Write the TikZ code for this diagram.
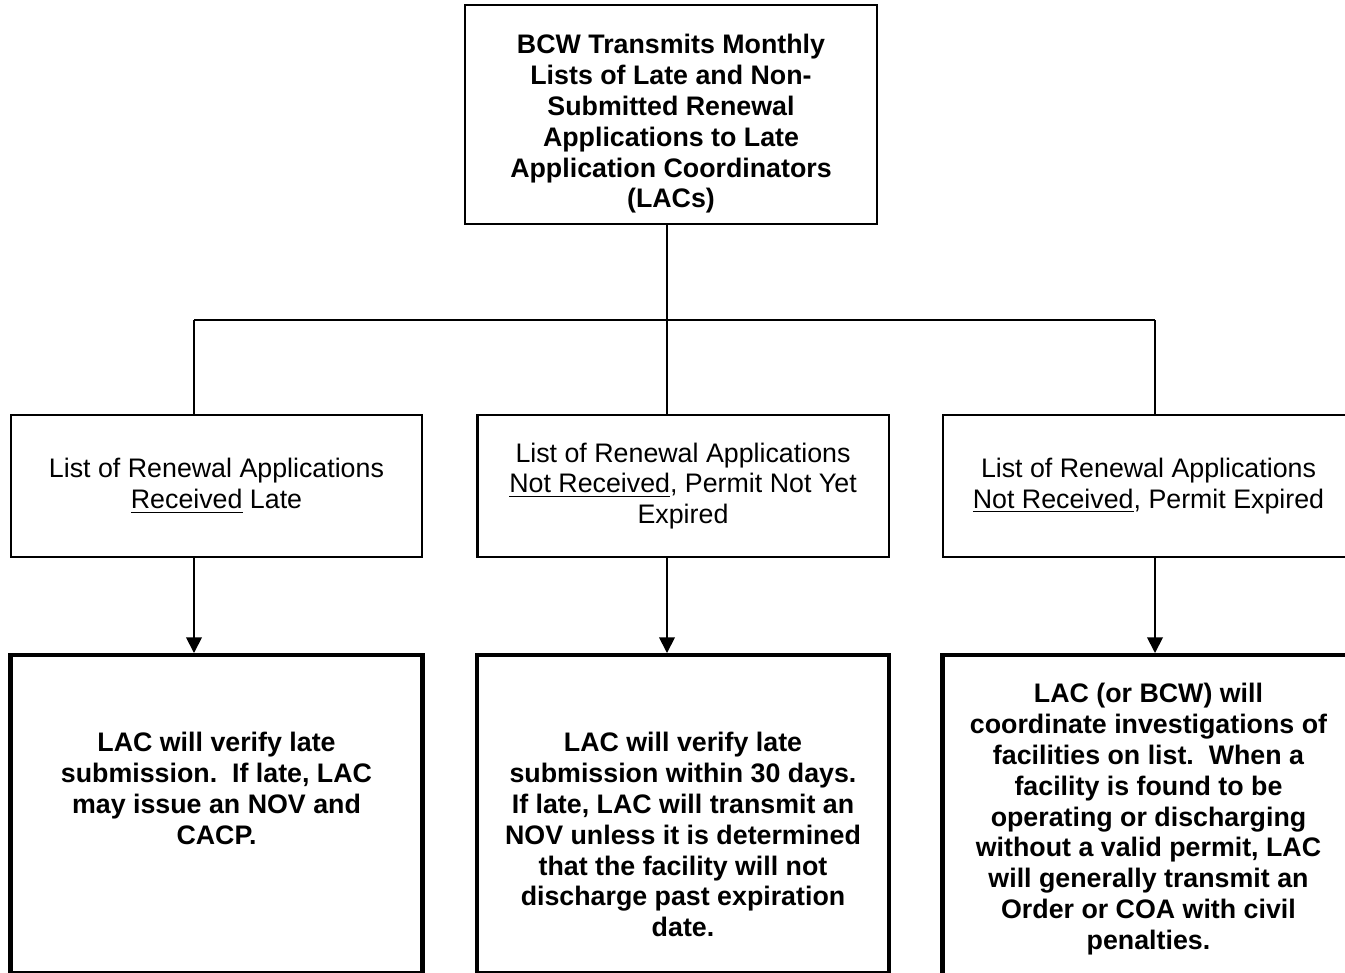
\documentclass[tikz,border=0pt]{standalone}
\usepackage{fontspec}
\setmainfont{Liberation Sans}
\usetikzlibrary{positioning,arrows.meta}
\newlength{\pxu}
\setlength{\pxu}{0.448pt}

\begin{document}
\begin{tikzpicture}[
    x=\pxu, y=-\pxu,
    font=\fontsize{12}{13.8}\selectfont,
    box/.style={
        draw,
        line width=0.9pt,
        align=center,
        inner sep=0pt
    },
    headbox/.style={box, minimum width=412\pxu, minimum height=219\pxu},
    listbox/.style={box, minimum width=411\pxu, minimum height=142\pxu},
    actbox/.style={box, line width=1.8pt, minimum width=412\pxu, minimum height=318\pxu},
    boldtext/.style={align=center, inner sep=0pt,
        font=\fontsize{12}{13.8}\selectfont\bfseries},
    link/.style={line width=0.8pt},
    arrow/.style={link, -{Triangle[length=7pt,width=7pt]}}
]
\clip (0,0) rectangle (1345,972);

% monthly transmission
\node[headbox] (head) at (671,114.5) {};
\node[boldtext, below=30\pxu of head.north] (headtxt) {BCW Transmits Monthly\\Lists of Late and Non-\\Submitted Renewal\\Applications to Late\\Application Coordinators\\(LACs)};

% lists
\node[listbox] (late) at (216.5,486) {List of Renewal Applications\\\underline{Received} Late};
\node[listbox] (notyet) at (683,486) {List of Renewal Applications\\\underline{Not Received}, Permit Not Yet\\Expired};
\node[listbox] (expired) at (1148.5,486) {List of Renewal Applications\\\underline{Not Received}, Permit Expired};

% actions
\node[actbox, below=95\pxu of late] (verify) {};
\node[actbox, below=95\pxu of notyet] (transmit) {};
\node[actbox, minimum height=348\pxu, below=95\pxu of expired] (order) {};

\node[boldtext, below=79\pxu of verify.north] (verifytxt) {LAC will verify late\\submission.\ \ If late, LAC\\may issue an NOV and\\CACP.};
\node[boldtext, below=79\pxu of transmit.north] (transmittxt) {LAC will verify late\\submission within 30 days.\\If late, LAC will transmit an\\NOV unless it is determined\\that the facility will not\\discharge past expiration\\date.};
\node[boldtext, below=30\pxu of order.north] (ordertxt) {LAC (or BCW) will\\coordinate investigations of\\facilities on list.\ \ When a\\facility is found to be\\operating or discharging\\without a valid permit, LAC\\will generally transmit an\\Order or COA with civil\\penalties.};

% connectors
\coordinate (hub) at (667,320);
\coordinate (lefthub) at (194,320);
\coordinate (righthub) at (1155,320);

\draw[link] (head.south -| hub) -- (notyet.north -| hub);
\draw[link] (lefthub) -- (righthub);
\draw[link] (lefthub) -- (late.north -| lefthub);
\draw[link] (righthub) -- (expired.north -| righthub);

\draw[arrow] (late.south -| lefthub) -- (verify.north -| lefthub);
\draw[arrow] (notyet.south -| hub) -- (transmit.north -| hub);
\draw[arrow] (expired.south -| righthub) -- (order.north -| righthub);

\end{tikzpicture}
\end{document}
